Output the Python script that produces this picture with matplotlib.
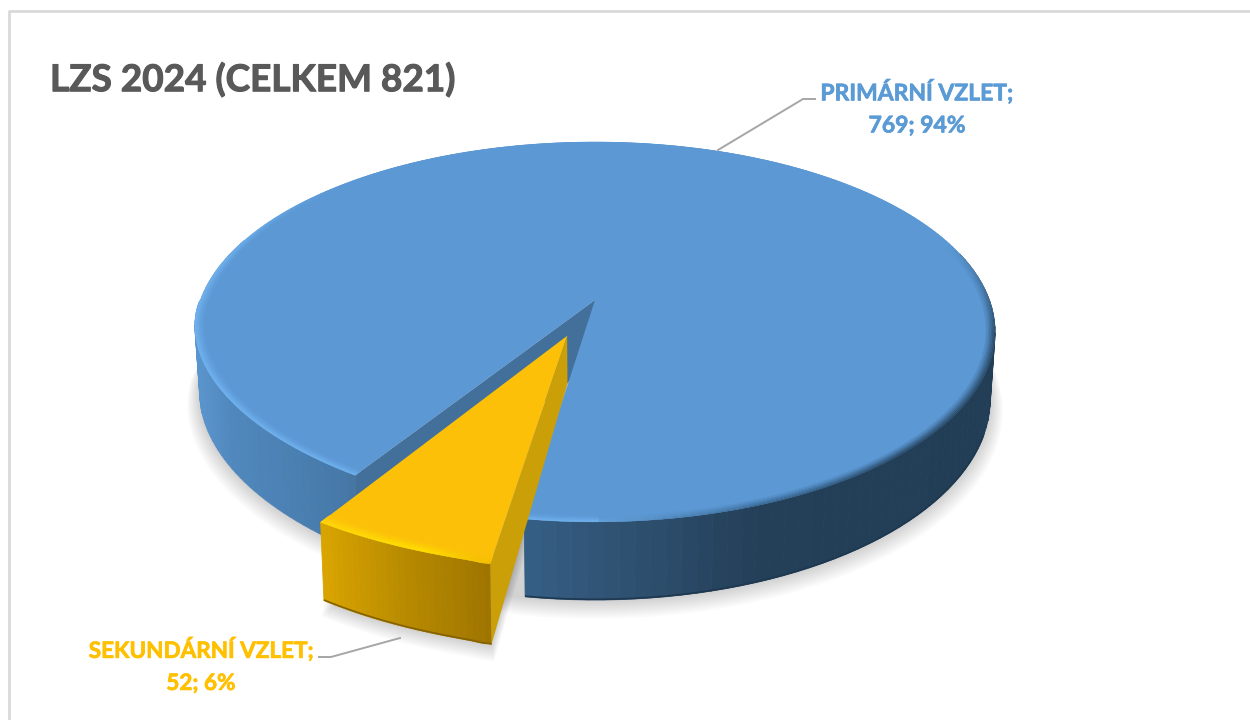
import numpy as np
import matplotlib
matplotlib.use('Agg')
import matplotlib.pyplot as plt
import matplotlib.patheffects as pe
from matplotlib.collections import PolyCollection
from matplotlib.colors import to_rgb

# data
names = ['PRIMÁRNÍ VZLET', 'SEKUNDÁRNÍ VZLET']
values = [769, 52]
title = 'LZS 2024 (CELKEM 821)'

plt.rcParams['font.family'] = ['Lato', 'DejaVu Sans']

# disc projection (pixels of the picture)
cx, cy = 595, 300
A, B, K = 394.4, 184.6, 0.168
DEPTH = 65
APEX_DEPTH = 46
LOWER = 0.988
EXPLODE = 0.2
YEL_R = 0.975
TOP_BLUE = '#5b98d4'
TOP_YEL = '#fcc009'


def project(r, theta, off=(0, 0)):
    # theta in degrees, clockwise from the back of the disc
    t = np.radians(theta)
    X = r * np.sin(t) + off[0]
    Y = -r * np.cos(t) + off[1]
    s = 1 / (1 - K * Y)
    x, y = cx + A * X * s, cy + B * Y * s
    # reference rim is a bit flatter front left
    if 190 < theta % 360 < 270:
        amp = 10 if off == (0, 0) else 6
        y -= amp * r * np.sqrt(np.sin(np.radians((theta % 360 - 190) / 80 * 180)))
    return x, y, s


def lower(r, theta, off=(0, 0), depth=DEPTH):
    x, y, s = project(r, theta, off)
    return cx + (x - cx) * LOWER, y + depth * s


def mix(c1, c2, f):
    a, b = np.array(to_rgb(c1)), np.array(to_rgb(c2))
    return tuple(a + (b - a) * np.clip(f, 0, 1))


def ramp(x, xs, cols):
    rgb = np.array([to_rgb(c) for c in cols])
    return tuple(np.interp(x, xs, rgb[:, i]) for i in range(3))


def side_colour_blue(x):
    return ramp(x, [198, 230, 340, 360, 523, 620, 760, 990],
                ['#5a94cc', '#5088bd', '#4679a9', '#44749f', '#365f86', '#2f5272', '#243f58', '#223e56'])


def side_colour_yel(x):
    return ramp(x, [318, 400, 488], ['#dba600', '#b98b00', '#9f7500'])


def edge_colour_blue(theta, x):
    theta = theta % 360
    if theta < 180:
        c = ramp(x, [523, 620, 760, 900], ['#79baf4', '#5f9bd2', '#3a6a95', '#2b4c6a'])
        return mix(TOP_BLUE, c, (theta - 72) / 28)
    return mix('#70b2ef', TOP_BLUE, (theta - 285) / 30)


def edge_colour_yel(x):
    return ramp(x, [318, 420, 488], ['#ffd60a', '#ffe000', '#f3bd00'])


def side_quads(t0, t1, off, colour_fn, r=1.0, n=60):
    ts = np.linspace(t0, t1, n)
    quads, cols = [], []
    for a, b in zip(ts[:-1], ts[1:]):
        p0 = project(r, a, off)[:2]
        p1 = project(r, b, off)[:2]
        quads.append([p0, p1, lower(r, b, off), lower(r, a, off)])
        cols.append(colour_fn(0.5 * (p0[0] + p1[0])))
    return PolyCollection(quads, facecolors=cols, edgecolors=cols, linewidths=0.6)


def rim_rings(t0, t1, off, colour_fn, top, R=1.0, width=0.02, rings=6, n=90):
    ts = np.linspace(t0, t1, n)
    out = []
    for i in range(rings):
        r0 = R - width * i / rings
        r1 = R - width * (i + 1) / rings
        f = 1 - i / rings
        quads, cols = [], []
        for a, b in zip(ts[:-1], ts[1:]):
            quads.append([project(r0, a, off)[:2], project(r0, b, off)[:2],
                          project(r1, b, off)[:2], project(r1, a, off)[:2]])
            x = project(R, 0.5 * (a + b), off)[0]
            cols.append(mix(top, colour_fn(0.5 * (a + b), x), f))
        out.append(PolyCollection(quads, facecolors=cols, edgecolors=cols, linewidths=0.3))
    return out


fig = plt.figure(figsize=(12.5, 7.2), dpi=100)
ax = fig.add_axes([0, 0, 1, 1])
ax.set_xlim(0, 1250)
ax.set_ylim(720, 0)
ax.axis('off')

# chart frame, runs off the picture right and bottom
ax.plot([1250, 8.5, 8.5], [10.5, 10.5, 720], color='#d9d9d9', lw=2)

# angles from the values
sweep = 360 * values[1] / sum(values)
sec_start = 188.6
sec_end = sec_start + sweep
mid = np.radians(0.5 * (sec_start + sec_end))
off = (EXPLODE * np.sin(mid), -EXPLODE * np.cos(mid))

# soft shadow
th = np.linspace(0, 360, 240)
low_blue = np.array([lower(1, t) for t in th])
th_y = np.linspace(sec_start, sec_end, 30)
low_yel = np.array([lower(YEL_R, t, off) for t in th_y] + [lower(0, 0, off, APEX_DEPTH)])
for i in range(1, 10):
    g = 1 + i * 0.0035
    for pts, dy in ((low_blue, 1.3), (low_yel, 1.8)):
        p = pts.copy()
        mx, my = p.mean(axis=0)
        p = np.c_[mx + (p[:, 0] - mx) * g, my + (p[:, 1] - my) * g + i * dy]
        ax.fill(p[:, 0], p[:, 1], color='black', alpha=0.02, lw=0)

# blue side wall
ax.add_collection(side_quads(75, sec_start, (0, 0), side_colour_blue))
ax.add_collection(side_quads(sec_end, 290, (0, 0), side_colour_blue))
bottom = np.array([lower(1, t) for t in np.linspace(110, sec_start, 60)])
ax.plot(bottom[:, 0], bottom[:, 1] - 0.7, color='#1e3850', lw=1.2, solid_capstyle='butt')

# blue cut face seen through the gap
p_a, p_r = project(0, 0)[:2], project(1, sec_end)[:2]
face = [p_a, p_r, lower(1, sec_end), lower(0, 0, off, APEX_DEPTH), lower(0, 0, depth=APEX_DEPTH)]
ax.fill(*zip(*face), color='#42709a', lw=0)

# blue top
ts = np.linspace(sec_end, 360 + sec_start, 400)
top = [project(0, 0)[:2]] + [project(1, t)[:2] for t in ts]
ax.fill(*zip(*top), color=TOP_BLUE, lw=0)
for coll in rim_rings(sec_end, 360 + sec_start, (0, 0), edge_colour_blue, TOP_BLUE, width=0.022, n=300):
    ax.add_collection(coll)

# yellow slice
ax.add_collection(side_quads(sec_start, sec_end, off, side_colour_yel, r=YEL_R, n=30))
bottom = np.array([lower(YEL_R, t, off) for t in np.linspace(sec_start, sec_end, 20)])
ax.plot(bottom[:, 0], bottom[:, 1] - 0.7, color='#856200', lw=1.2, solid_capstyle='butt')
ya = project(0, 0, off)[:2]
yr = project(YEL_R, sec_start, off)[:2]
cut = [ya, yr, lower(YEL_R, sec_start, off), lower(0, 0, off, APEX_DEPTH)]
ax.fill(*zip(*cut), color='#cb9f08', lw=0)
ts = np.linspace(sec_start, sec_end, 60)
top = [ya] + [project(YEL_R, t, off)[:2] for t in ts]
ax.fill(*zip(*top), color=TOP_YEL, lw=0)
for coll in rim_rings(sec_start, sec_end, off, lambda t, x: edge_colour_yel(x), TOP_YEL,
                      R=YEL_R, width=0.03, n=40):
    ax.add_collection(coll)

# texts
total = sum(values)
t1 = ax.text(50, 80, title, fontsize=26.6, fontweight='bold', color='#595959', ha='left', va='center')
t2 = ax.text(917, 108, f'{names[0]};\n{values[0]}; {round(100 * values[0] / total)}%',
             fontsize=16.5, fontweight='bold', color='#5b9bd5', ha='center', va='center', linespacing=1.65)
t3 = ax.text(201, 665.5, f'{names[1]};\n{values[1]}; {round(100 * values[1] / total)}%',
             fontsize=16.2, fontweight='bold', color='#ffc000', ha='center', va='center', linespacing=1.65)
for t, lw in ((t1, 0.8), (t2, 0.5), (t3, 0.5)):
    t.set_path_effects([pe.withStroke(linewidth=lw, foreground=t.get_color())])

# leader lines
ax.plot([718, 803, 815], [150, 99, 99], color='#a6a6a6', lw=1.4)
ax.plot([400, 331, 319], [638, 657, 657], color='#a6a6a6', lw=1.4)

fig.savefig('out.png', dpi=100)
